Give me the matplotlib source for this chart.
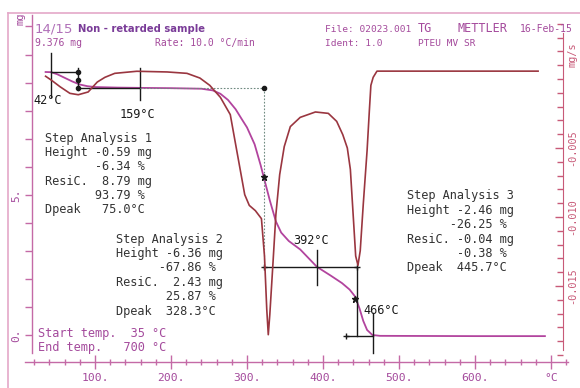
import matplotlib
matplotlib.use("Agg")
import matplotlib.pyplot as plt
from matplotlib.ticker import FixedLocator, MultipleLocator, NullFormatter

# ---------------- data ----------------
tg_temp = [35, 42, 50, 60, 70, 80, 90, 100, 130, 160, 200, 240, 255, 265, 275, 285, 293,
           300, 310, 318, 322, 330, 338, 345, 355, 370, 392, 410, 425, 435, 442, 448,
           453, 458, 465, 475, 600, 692]
tg_mass = [9.376, 9.37, 9.30, 9.17, 9.04, 8.93, 8.87, 8.84, 8.82, 8.81, 8.80, 8.78, 8.72,
           8.60, 8.38, 8.05, 7.70, 7.40, 6.80, 6.05, 5.63, 4.80, 4.05, 3.65, 3.35, 3.05,
           2.43, 2.12, 1.85, 1.62, 1.38, 0.95, 0.50, 0.18, 0.0, -0.03, -0.04, -0.04]

dtg_temp = [35, 43, 54, 67, 78, 91, 103, 113, 126, 155, 195, 221, 238, 251, 265, 278, 284,
            291, 297, 303, 311, 319, 323, 326, 328, 330, 334, 338, 343, 349, 357, 370,
            390, 407, 418, 426, 432, 436, 440, 443, 446, 449, 453, 458, 461, 463, 466,
            471, 683]
dtg_rate = [0.0002, -0.0001, -0.00056, -0.00104, -0.00114, -0.00094, -0.00022, 0.00012,
            0.00041, 0.00056, 0.00051, 0.00041, 0.00007, -0.00046, -0.00133, -0.00258,
            -0.00442, -0.00655, -0.00838, -0.00916, -0.00954, -0.01012, -0.01283,
            -0.01669, -0.01853, -0.01708, -0.01350, -0.00983, -0.00693, -0.00490,
            -0.00345, -0.00278, -0.00239, -0.00249, -0.00307, -0.00403, -0.00500,
            -0.00655, -0.01012, -0.01283, -0.01350, -0.01244, -0.00906, -0.00519,
            -0.00229, -0.00046, 0.00012, 0.00057, 0.00057]

x_ticks = [100, 200, 300, 400, 500, 600, 700]
x_tick_labels = ["100.", "200.", "300.", "400.", "500.", "600.", "°C"]
mg_ticks = [0, 5]
mg_tick_labels = ["0.", "5."]
rate_ticks = [-0.005, -0.010, -0.015]
rate_tick_labels = ["-0.005", "-0.010", "-0.015"]

# step evaluation values
start_mass = 9.376
step1_temps = [42, 78, 159]
step1_resid = 8.79
step2_temps = [322, 392]
step2_resid = 2.43
step2_mid = 5.63
step3_temps = [445, 466]
step3_resid = -0.04
step3_mid = 1.30

header_left = ["14/15", "Non - retarded sample"]
step1_text = ["Step Analysis 1", "Height -0.59 mg", "       -6.34 %",
              "ResiC.  8.79 mg", "       93.79 %", "Dpeak   75.0°C"]
step2_text = ["Step Analysis 2", "Height -6.36 mg", "      -67.86 %",
              "ResiC.  2.43 mg", "       25.87 %", "Dpeak  328.3°C"]
step3_text = ["Step Analysis 3", "Height -2.46 mg", "      -26.25 %",
              "ResiC. -0.04 mg", "       -0.38 %", "Dpeak  445.7°C"]
temp_text = ["Start temp.  35 °C", "End temp.   700 °C"]

# ---------------- layout helpers ----------------
W, H = 580, 388
fig = plt.figure(figsize=(W / 100, H / 100), dpi=100)
fig.patch.set_facecolor("white")

def fx(px):
    return px / W

def fy(py):
    return 1 - py / H

L, R, T, B = 25, 568, 15, 362
ax = fig.add_axes([fx(L), fy(B), (R - L) / W, (B - T) / H])
ax.set_facecolor("none")

def temp_of(px):
    return (px - 19) / 0.76

def mg_of(py):
    return (335 - py) / 28.05

def rate_of(py):
    return (79 - py) / 13800.0

ax.set_xlim(temp_of(L), temp_of(R))
ax.set_ylim(mg_of(B), mg_of(T))

AXC = "#c46aa6"
RAXC = "#c85a78"
TGC = "#b2449e"
DTGC = "#9a3640"
TXT = "#333333"
HDR = "#a44a9c"
MONO = "DejaVu Sans Mono"

# outer frame (top and left)
fig.add_artist(plt.Line2D([fx(8), fx(580)], [fy(13), fy(13)], color="#e4a8c8", lw=1.2))
fig.add_artist(plt.Line2D([fx(8), fx(8)], [fy(13), fy(388)], color="#e4a8c8", lw=1.2))

# spines
for s in ["top", "right"]:
    ax.spines[s].set_visible(False)
ax.spines["left"].set_position(("axes", (32 - L) / (R - L)))
ax.spines["left"].set_bounds(mg_of(353), mg_of(T))
ax.spines["left"].set_color(AXC)
ax.spines["bottom"].set_color(AXC)
ax.spines["left"].set_linewidth(1.0)
ax.spines["bottom"].set_linewidth(1.0)

ax.xaxis.set_major_locator(FixedLocator(x_ticks))
ax.set_xticklabels(x_tick_labels)
ax.xaxis.set_minor_locator(MultipleLocator(20))
ax.tick_params(axis="x", which="major", direction="inout", length=10, width=1.0,
               color=AXC, labelcolor=HDR, labelsize=8.2, pad=3)
ax.tick_params(axis="x", which="minor", direction="inout", length=5, width=1.0, color=AXC)
for lab in ax.get_xticklabels():
    lab.set_family(MONO)

ax.yaxis.set_major_locator(FixedLocator(mg_ticks))
ax.set_yticklabels(mg_tick_labels)
ax.yaxis.set_minor_locator(FixedLocator(list(range(0, 12))))
ax.tick_params(axis="y", which="major", direction="out", length=5, width=1.0,
               color=AXC, labelcolor=HDR, labelsize=8, pad=3, labelrotation=90)
ax.tick_params(axis="y", which="minor", direction="out", length=5, width=1.0, color=AXC)
for lab in ax.get_yticklabels():
    lab.set_family(MONO)
    lab.set_va("center")

# twin for DTG
ax2 = ax.twinx()
ax2.set_facecolor("none")
ax2.set_ylim(rate_of(B), rate_of(T))
for s in ["top", "left", "bottom"]:
    ax2.spines[s].set_visible(False)
ax2.spines["right"].set_position(("axes", (563 - L) / (R - L)))
ax2.spines["right"].set_bounds(rate_of(350), rate_of(33))
ax2.spines["right"].set_color(RAXC)
ax2.yaxis.set_major_locator(FixedLocator(rate_ticks))
ax2.set_yticklabels(rate_tick_labels)
ax2.yaxis.set_minor_locator(MultipleLocator(0.001))
ax2.yaxis.set_minor_formatter(NullFormatter())
ax2.tick_params(axis="y", which="major", direction="in", length=6, width=1.0,
                color=RAXC, labelcolor=RAXC, labelsize=7.4, pad=3, labelrotation=90)
ax2.tick_params(axis="y", which="minor", direction="in", length=4, width=1.0, color=RAXC)
for lab in ax2.get_yticklabels():
    lab.set_family(MONO)
    lab.set_va("center")

# curves
ax2.plot(dtg_temp, dtg_rate, color=DTGC, lw=1.2, zorder=3)
ax.plot(tg_temp, tg_mass, color=TGC, lw=1.3, zorder=4)

# step evaluation marks
K = "#1a1a1a"
DOT = "#6f8a80"
t42, t78, t159 = step1_temps
ax.plot([t42, t42], [mg_of(53), mg_of(97)], color=K, lw=1.0, zorder=5)
ax.plot([t42, t78], [start_mass, start_mass], color=K, lw=1.0, zorder=5)
ax.plot([t78, t78], [mg_of(68), mg_of(90)], color=K, lw=1.0, zorder=5)
ax.plot([t78, t78, t78], [start_mass, (start_mass + step1_resid) / 2, step1_resid],
        ls="none", marker="o", ms=3, color=K, zorder=6)
ax.plot([t78, t159], [step1_resid, step1_resid], color=K, lw=1.0, zorder=5)
ax.plot([t159, t159], [mg_of(68), mg_of(100)], color=K, lw=1.0, zorder=5)
t322, t392 = step2_temps
ax.plot([t159, t322], [step1_resid, step1_resid], color=DOT, lw=0.8, ls=(0, (1.5, 1.5)), zorder=5)
ax.plot([t322], [step1_resid], marker="o", ms=3, color=K, zorder=6)
ax.plot([t322, t322], [step1_resid, step2_resid], color=DOT, lw=0.8, ls=(0, (1.5, 1.5)), zorder=5)
ax.plot([t322], [step2_mid], marker="*", ms=5, color=K, zorder=6)
t445, t466 = step3_temps
ax.plot([t322, t445], [step2_resid, step2_resid], color=K, lw=1.0, zorder=5)
ax.plot([t322, t445], [step2_resid, step2_resid], ls="none", marker="+", ms=5, color=K, zorder=6)
ax.plot([t392, t392], [mg_of(250), mg_of(285)], color=K, lw=1.0, zorder=5)
ax.plot([t445, t445], [step2_resid, step3_resid], color=K, lw=1.0, zorder=5)
ax.plot([t445 - 3], [step3_mid], marker="*", ms=5, color=K, zorder=6)
ax.plot([430, t466], [step3_resid, step3_resid], color=K, lw=1.0, zorder=5)
ax.plot([430], [step3_resid], marker="+", ms=5, color=K, zorder=6)
ax.plot([t466, t466], [mg_of(313), mg_of(353)], color=K, lw=1.0, zorder=5)

lab_kw = dict(family=MONO, fontsize=8.6, color=K, va="center")
fig.text(fx(33), fy(100), "42°C", ha="left", **lab_kw)
fig.text(fx(137), fy(115), "159°C", ha="center", **lab_kw)
fig.text(fx(311), fy(240), "392°C", ha="center", **lab_kw)
fig.text(fx(363), fy(311), "466°C", ha="left", **lab_kw)

# text blocks
def block(lines, x0, y0, color=TXT, size=8.6, step=14.4):
    for i, s in enumerate(lines):
        fig.text(fx(x0), fy(y0 + i * step), s, family=MONO, fontsize=size,
                 color=color, ha="left", va="center")

block(step1_text, 45, 138)
block(step2_text, 116, 239)
block(step3_text, 407, 196)
block(temp_text, 38, 333, color=HDR)

# header
fig.text(fx(35), fy(29), header_left[0], family="DejaVu Sans", fontsize=9.5,
         color="#b070b8", ha="left", va="center")
fig.text(fx(78), fy(29), header_left[1], family="DejaVu Sans", fontsize=7.2,
         fontweight="bold", color="#7a3c98", ha="left", va="center")
hdr_kw = dict(family=MONO, color=HDR, va="center", ha="left")
fig.text(fx(35), fy(43), "9.376 mg", fontsize=7, **hdr_kw)
fig.text(fx(155), fy(43), "Rate: 10.0 °C/min", fontsize=7, **hdr_kw)
fig.text(fx(325), fy(29), "File: 02023.001", fontsize=6.8, **hdr_kw)
fig.text(fx(418), fy(29), "TG", fontsize=8.5, **hdr_kw)
fig.text(fx(457), fy(29), "METTLER", fontsize=8.5, **hdr_kw)
fig.text(fx(520), fy(29), "16-Feb-15", fontsize=7, **hdr_kw)
fig.text(fx(325), fy(43), "Ident: 1.0", fontsize=6.8, **hdr_kw)
fig.text(fx(418), fy(43), "PTEU MV SR", fontsize=6.8, **hdr_kw)
fig.text(fx(20), fy(19), "mg", family=MONO, fontsize=7.5, color=HDR,
         rotation=90, ha="center", va="center")
fig.text(fx(572), fy(55), "mg/s", family=MONO, fontsize=7.4, color=RAXC,
         rotation=90, ha="center", va="center")

fig.savefig("out.png", dpi=100)
